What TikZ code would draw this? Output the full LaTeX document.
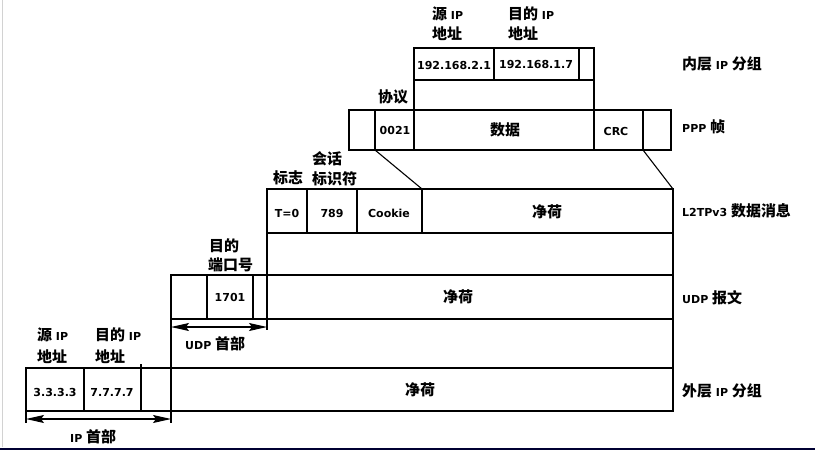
\documentclass[tikz,border=0pt]{standalone}
\usepackage{fontspec}
\setmainfont{DejaVu Sans}
\newfontfamily\cjk{Noto Sans CJK SC}[Scale=1.36]
\usetikzlibrary{arrows.meta}

\newcommand{\zh}[1]{{\cjk #1}}

\tikzset{
  frame/.style={line width=1.1pt},
  field/.style={inner sep=0pt, font=\bfseries\fontsize{11}{13}\selectfont},
  tag/.style={field, anchor=base west},
  hdrspan/.style={line width=1.1pt,
    {Stealth[length=18pt,width=8pt,inset=3pt]}-{Stealth[length=18pt,width=8pt,inset=3pt]}},
}

\begin{document}
\begin{tikzpicture}[x=1pt,y=-1pt]
  \useasboundingbox (0,0) rectangle (815,450);
  % screenshot edges
  \draw[gray!35, line width=1pt] (2.5,0) -- (2.5,447);
  \fill[black!80!blue] (0,447.5) rectangle (815,450);

  % inner IP packet
  \draw[frame] (414,48) rectangle (594,80);
  \foreach \x in {494,579} \draw[frame] (\x,48) -- (\x,80);
  \draw[frame] (414,80) -- (414,110) (594,80) -- (594,110);
  % PPP frame
  \draw[frame] (349,110) rectangle (671,150);
  \foreach \x in {375,414,594,643} \draw[frame] (\x,110) -- (\x,150);
  % L2TPv3 message
  \draw[frame] (267,189) rectangle (673,233);
  \foreach \x in {307,357,422} \draw[frame] (\x,189) -- (\x,233);
  \draw[frame] (267,233) -- (267,330) (673,233) -- (673,275);
  % UDP datagram
  \draw[frame] (171,275) rectangle (673,319);
  \foreach \x in {207,253} \draw[frame] (\x,275) -- (\x,319);
  \draw[frame] (171,319) -- (171,423) (673,319) -- (673,368);
  % outer IP packet
  \draw[frame] (26,368) rectangle (673,411);
  \draw[frame] (84,368) -- (84,411) (141,364) -- (141,411);
  \draw[frame] (26,411) -- (26,423);

  % links and header spans
  \coordinate (pppL) at (375,150);
  \coordinate (pppR) at (643,150);
  \coordinate (l2tpL) at (422,189);
  \coordinate (l2tpR) at (673,189);
  \coordinate (udpA) at (171,327);
  \coordinate (udpB) at (267,327);
  \coordinate (ipA) at (26,419);
  \coordinate (ipB) at (171,419);
  \draw[frame] (pppL) -- (l2tpL);
  \draw[frame] (pppR) -- (l2tpR);
  \draw[hdrspan] (udpA) -- (udpB);
  \draw[hdrspan] (ipA) -- (ipB);

  % field contents
  \foreach \x/\y/\t [count=\i] in {
      454/65/192.168.2.1, 536/64/192.168.1.7,
      395/130/0021, 505/130/\zh{数据}, 616/131/CRC,
      287/213/T=0, 332/213/789, 389/213/Cookie, 547/212/\zh{净荷},
      230/297/1701, 458/297/\zh{净荷},
      55/392/3.3.3.3, 112/392/7.7.7.7, 420/390/\zh{净荷}}
    {\node[field] (f\i) at (\x,\y) {\t};}

  % field names
  \foreach \x/\y/\t [count=\i] in {
      432/19/{\zh{源} IP}, 432/39/\zh{地址},
      508/19/{\zh{目的} IP}, 508/39/\zh{地址},
      378/102/\zh{协议},
      273/183/\zh{标志}, 312/164/\zh{会话}, 312/184/\zh{标识符},
      209/251/\zh{目的}, 208/270/\zh{端口号},
      185/349/{UDP \zh{首部}},
      37/340/{\zh{源} IP}, 37/362/\zh{地址},
      95/340/{\zh{目的} IP}, 95/362/\zh{地址},
      70/442/{IP \zh{首部}}}
    {\node[tag] (n\i) at (\x,\y) {\t};}

  % layer names
  \foreach \y/\t [count=\i] in {
      69/{\zh{内层} IP \zh{分组}}, 132/{PPP \zh{帧}},
      216/{L2TPv3 \zh{数据消息}}, 303/{UDP \zh{报文}},
      396/{\zh{外层} IP \zh{分组}}}
    {\node[tag] (layer\i) at (682,\y) {\t};}
\end{tikzpicture}
\end{document}
